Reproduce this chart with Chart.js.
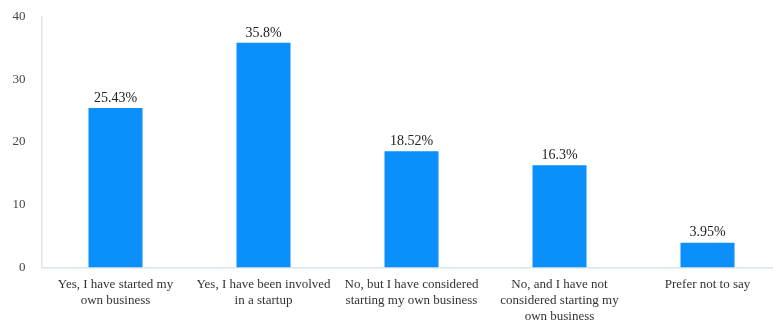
<!DOCTYPE html>
<html>
<head>
<meta charset="utf-8">
<script src="https://cdn.jsdelivr.net/npm/chart.js@4/dist/chart.umd.min.js"></script>
<style>
html,body{margin:0;padding:0;background:#fff;overflow:hidden;width:773px;height:322px;}
canvas{display:block;}
</style>
</head>
<body>
<canvas id="c" width="782" height="322"></canvas>
<script>
const categories = [
  ["Yes, I have started my", "own business"],
  ["Yes, I have been involved", "in a startup"],
  ["No, but I have considered", "starting my own business"],
  ["No, and I have not", "considered starting my", "own business"],
  ["Prefer not to say"]
];
const values = [25.43, 35.8, 18.52, 16.3, 3.95];
const valueLabels = ["25.43%", "35.8%", "18.52%", "16.3%", "3.95%"];
const yTicks = [0, 10, 20, 30, 40];

const FONT = "'Liberation Serif', 'Times New Roman', serif";

const dataLabelPlugin = {
  id: 'dataLabels',
  afterDatasetsDraw(chart) {
    const ctx = chart.ctx;
    const meta = chart.getDatasetMeta(0);
    ctx.save();
    ctx.font = "14px " + FONT;
    ctx.fillStyle = "#222";
    ctx.textAlign = "center";
    ctx.textBaseline = "bottom";
    meta.data.forEach((bar, i) => {
      ctx.fillText(valueLabels[i], bar.x, bar.y - 3);
    });
    ctx.restore();
  }
};

new Chart(document.getElementById('c'), {
  type: 'bar',
  data: {
    labels: categories,
    datasets: [{
      data: values,
      backgroundColor: '#0a8ffb',
      borderWidth: 0,
      categoryPercentage: 1,
      barPercentage: 0.365
    }]
  },
  options: {
    responsive: false,
    animation: false,
    devicePixelRatio: 1,
    layout: { padding: { top: 0, right: 0.5, left: 0, bottom: 0 } },
    plugins: { legend: { display: false }, tooltip: { enabled: false } },
    scales: {
      x: {
        grid: { display: false, drawTicks: false },
        border: { display: true, color: '#dde4f0', width: 1.5 },
        ticks: {
          font: { family: FONT, size: 13, lineHeight: 1.22 },
          color: '#333',
          padding: 9,
          maxRotation: 0,
          autoSkip: false
        },
        afterFit(scale) { scale.height = 54.5; }
      },
      y: {
        min: 0,
        max: 40,
        afterBuildTicks(scale) { scale.ticks = yTicks.map(v => ({ value: v })); },
        grid: { display: false, drawTicks: false },
        border: { display: true, color: '#dde4f0', width: 1.5 },
        ticks: {
          font: { family: FONT, size: 13 },
          color: '#444',
          padding: 16
        },
        afterFit(scale) {
          scale.width = 41.5;
          scale.paddingTop = 16.5;
          scale.paddingBottom = 0;
        }
      }
    }
  },
  plugins: [dataLabelPlugin]
});
</script>
</body>
</html>
